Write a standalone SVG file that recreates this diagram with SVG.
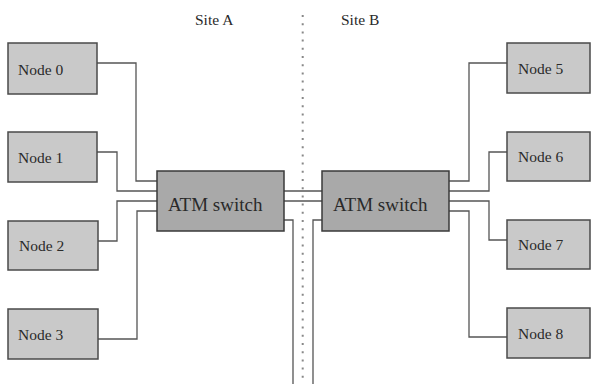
<svg xmlns="http://www.w3.org/2000/svg" width="592" height="384" viewBox="0 0 592 384">
<style>
.node{fill:#c9c9c9;stroke:#4a4a4a;stroke-width:1.5}
.sw{fill:#a9a9a9;stroke:#3a3a3a;stroke-width:1.5}
.lbl{font-family:"Liberation Serif",serif;font-size:15.5px;fill:#2a2a2a}
.big{font-family:"Liberation Serif",serif;font-size:19px;fill:#2a2a2a}
.wire{fill:none;stroke:#555;stroke-width:1.3}
.div{fill:none;stroke:#888;stroke-width:2;stroke-dasharray:2 6.2}
</style>
<rect width="592" height="384" fill="#fff"/>
<line class="div" x1="302.7" y1="15" x2="302.7" y2="384"/>
<text class="lbl" x="195" y="25">Site A</text>
<text class="lbl" x="341" y="25">Site B</text>
<g id="connectors">
<polyline class="wire" points="97,63 136,63 136,181 157,181"/>
<polyline class="wire" points="97,152 117,152 117,191 157,191"/>
<polyline class="wire" points="98,241 117,241 117,201 157,201"/>
<polyline class="wire" points="98,339 137,339 137,211 157,211"/>
<line class="wire" x1="284" y1="191" x2="322" y2="191"/>
<line class="wire" x1="284" y1="201" x2="322" y2="201"/>
<polyline class="wire" points="284,220 293,220 293,384"/>
<polyline class="wire" points="322,220 313,220 313,384"/>
<polyline class="wire" points="507,63 469,63 469,181 449,181"/>
<polyline class="wire" points="507,152 489,152 489,191 449,191"/>
<polyline class="wire" points="507,240 489,240 489,201 449,201"/>
<polyline class="wire" points="507,337 469,337 469,211 449,211"/>
</g>
<g id="node0"><rect class="node" x="8" y="43" width="89" height="51"/><text class="lbl" x="18" y="75">Node 0</text></g>
<g id="node1"><rect class="node" x="8" y="132" width="89" height="50"/><text class="lbl" x="18" y="163">Node 1</text></g>
<g id="node2"><rect class="node" x="8" y="221" width="90" height="49"/><text class="lbl" x="19" y="251">Node 2</text></g>
<g id="node3"><rect class="node" x="8" y="309" width="90" height="50"/><text class="lbl" x="18" y="340">Node 3</text></g>
<g id="switchA"><rect class="sw" x="157" y="171" width="127" height="60"/><text class="big" x="168" y="211">ATM switch</text></g>
<g id="switchB"><rect class="sw" x="322" y="171" width="127" height="60"/><text class="big" x="333" y="211">ATM switch</text></g>
<g id="node5"><rect class="node" x="507" y="43" width="83" height="50"/><text class="lbl" x="518" y="74">Node 5</text></g>
<g id="node6"><rect class="node" x="507" y="132" width="83" height="49"/><text class="lbl" x="518" y="162">Node 6</text></g>
<g id="node7"><rect class="node" x="507" y="220" width="83" height="49"/><text class="lbl" x="518" y="250">Node 7</text></g>
<g id="node8"><rect class="node" x="507" y="308" width="83" height="50"/><text class="lbl" x="518" y="339">Node 8</text></g>
</svg>
